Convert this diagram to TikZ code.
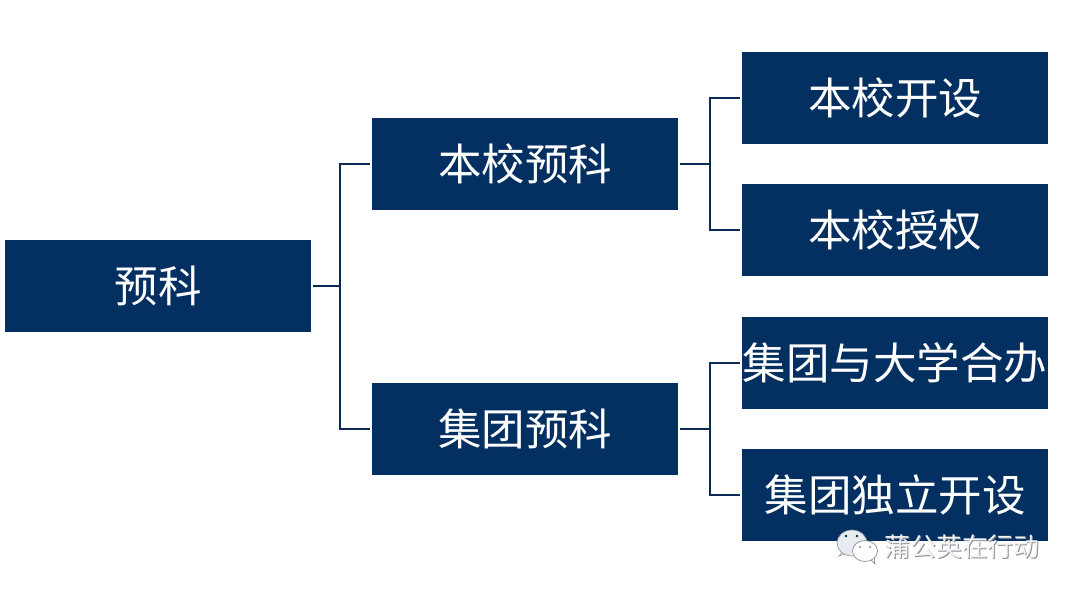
\documentclass[tikz,border=0pt]{standalone}
\usepackage{fontspec}
\setmainfont{Noto Sans CJK SC}
\definecolor{navy}{HTML}{042F61}
\definecolor{linkc}{HTML}{0A2A52}
\definecolor{wm}{HTML}{F4F4F4}
\definecolor{wmd}{HTML}{8A8F96}
\tikzset{
  box/.style={fill=navy,text=white,minimum width=306pt,minimum height=92pt,inner sep=0pt,font=\fontsize{43.5}{44}\selectfont,anchor=center},
  link/.style={draw=linkc,line width=1.8pt},
  wmtext/.style={inner sep=0pt,font=\fontsize{25.8}{26}\selectfont}
}
\begin{document}
\begin{tikzpicture}[x=1pt,y=-1pt]
\useasboundingbox (0,0) rectangle (1075,594);
\fill[white] (0,0) rectangle (1075,594);
\node[box] (root) at (158,286) {预科};
\node[box] (a) at (525,164) {本校预科};
\node[box] (b) at (525,429) {集团预科};
\node[box] (a1) at (895,98) {本校开设};
\node[box] (a2) at (895,230) {本校授权};
\node[box] (b1) at (895,363) {集团与大学合办};
\node[box] (b2) at (895,495) {集团独立开设};
\coordinate (j0) at (340,286);
\coordinate (j1) at (710,164);
\coordinate (j2) at (710,429);
\draw[link] ([xshift=2pt]root.east) -- (j0);
\draw[link] (j0) |- ([xshift=-2pt]a.west);
\draw[link] (j0) |- ([xshift=-2pt]b.west);
\draw[link] ([xshift=2pt]a.east) -- (j1);
\draw[link] (j1) |- ([xshift=-2pt]a1.west);
\draw[link] (j1) |- ([xshift=-2pt]a2.west);
\draw[link] ([xshift=2pt]b.east) -- (j2);
\draw[link] (j2) |- ([xshift=-2pt]b1.west);
\draw[link] (j2) |- ([xshift=-2pt]b2.west);
% watermark icon
\fill[white,draw=wmd,line width=.6pt] (843,551) -- (839,556) -- (848,553) -- cycle;
\fill[white!70!navy!30,draw=wmd,line width=.6pt] (852,543) ellipse (15 and 13);
\fill[navy!80!black] (846,536) circle (1.4);
\fill[navy!80!black] (857,536) circle (1.4);
\fill[white,draw=wmd,line width=.7pt] (871,560) -- (875,564) -- (874,556) -- cycle;
\fill[white,draw=wmd,line width=.7pt] (865,551) ellipse (12.5 and 10.5);
\fill[wmd] (860,547) circle (1.1);
\fill[wmd] (870,547) circle (1.1);
% watermark text
\node[wmtext,text=wmd] (wms) at (963,548) {蒲公英在行动};
\node[wmtext,text=wm] (wmt) at (962,547) {蒲公英在行动};
\end{tikzpicture}
\end{document}
